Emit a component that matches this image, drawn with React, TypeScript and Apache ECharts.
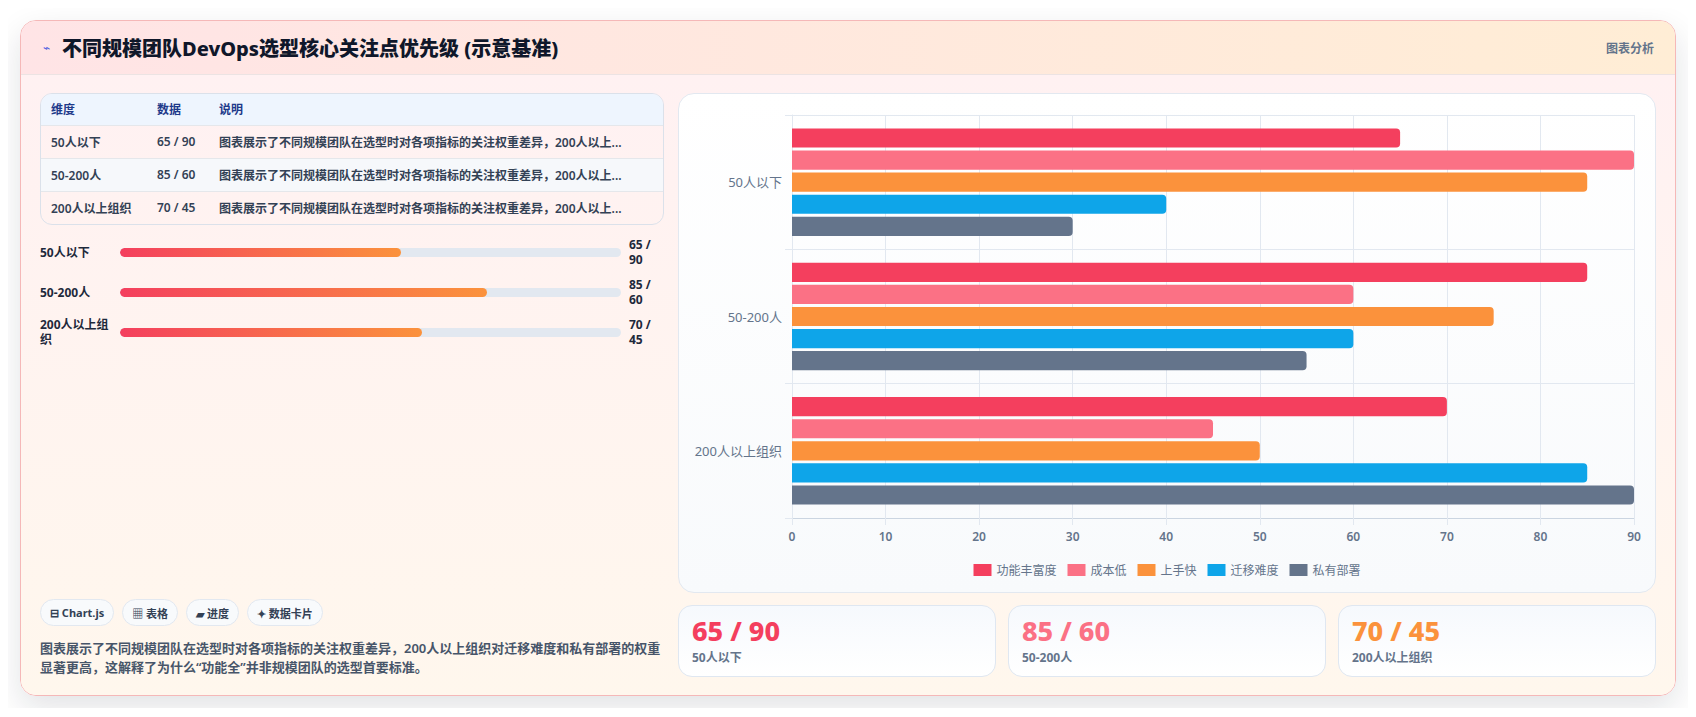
import { useEffect, useRef } from "react";
import * as echarts from "echarts";

// Team-size categories and per-dimension weights
const CATEGORIES = ["50人以下", "50-200人", "200人以上组织"];
const SERIES_NAMES = ["功能丰富度", "成本低", "上手快", "迁移难度", "私有部署"];
const FEATURE_RICHNESS = [65, 85, 70];
const LOW_COST = [90, 60, 45];
const EASY_ONBOARDING = [85, 75, 50];
const MIGRATION_DIFFICULTY = [40, 60, 85];
const PRIVATE_DEPLOYMENT = [30, 55, 90];
const SERIES_VALUES = [FEATURE_RICHNESS, LOW_COST, EASY_ONBOARDING, MIGRATION_DIFFICULTY, PRIVATE_DEPLOYMENT];
const X_MIN = 0;
const X_MAX = 90;
const X_INTERVAL = 10;
const PROGRESS_MAX = 116;

const SERIES_COLORS = ["#f43f5e", "#fb7185", "#fb923c", "#0ea5e9", "#64748b"];
const STAT_COLORS = ["#f43f5e", "#fb7185", "#fb923c"];

const TITLE = "不同规模团队DevOps选型核心关注点优先级 (示意基准)";
const TABLE_HEAD = ["维度", "数据", "说明"];
const NOTE_SHORT = "图表展示了不同规模团队在选型时对各项指标的关注权重差异，200人以上...";
const NOTE =
  "图表展示了不同规模团队在选型时对各项指标的关注权重差异，200人以上组织对迁移难度和私有部署的权重显著更高，这解释了为什么“功能全”并非规模团队的选型首要标准。";
const TAGS = ["⊟ Chart.js", "▦ 表格", "▰ 进度", "✦ 数据卡片"];

const FONT = '"Noto Sans", "Noto Sans CJK SC", sans-serif';

const pair = (i: number) => `${FEATURE_RICHNESS[i]} / ${LOW_COST[i]}`;

function BarChart() {
  const ref = useRef<HTMLDivElement>(null);

  useEffect(() => {
    if (!ref.current) return;
    const chart = echarts.init(ref.current, null, { renderer: "svg" });
    const grid = "#e2e8f0";
    chart.setOption({
      animation: false,
      textStyle: { fontFamily: FONT },
      grid: { left: 113, right: 21, top: 21, bottom: 74 },
      legend: {
        data: SERIES_NAMES,
        top: 465,
        left: "center",
        itemWidth: 18,
        itemHeight: 12,
        itemGap: 11,
        icon: "rect",
        textStyle: { fontSize: 12, color: "#64748b", fontFamily: FONT },
      },
      xAxis: {
        type: "value",
        min: X_MIN,
        max: X_MAX,
        interval: X_INTERVAL,
        axisLine: { show: true, lineStyle: { color: "#cbd5e1" } },
        axisTick: { show: true, length: 7, lineStyle: { color: grid } },
        axisLabel: { color: "#64748b", fontSize: 12, margin: 12, fontWeight: 600 },
        splitLine: { show: true, lineStyle: { color: grid } },
      },
      yAxis: {
        type: "category",
        data: CATEGORIES,
        inverse: true,
        axisLine: { show: true, lineStyle: { color: grid } },
        axisTick: { show: true, length: 7, lineStyle: { color: grid } },
        axisLabel: { color: "#64748b", fontSize: 13, margin: 10 },
        splitLine: { show: true, lineStyle: { color: grid } },
      },
      series: SERIES_NAMES.map((name, i) => ({
        name,
        type: "bar",
        data: SERIES_VALUES[i],
        barCategoryGap: "20%",
        barGap: "15%",
        itemStyle: { color: SERIES_COLORS[i], borderRadius: [0, 4, 4, 0] },
      })),
    });
    return () => chart.dispose();
  }, []);

  return <div ref={ref} style={{ width: 976, height: 498 }} />;
}

export default function App() {
  return (
    <div style={{ padding: 12, fontFamily: FONT }}>
      <div
        style={{
          width: 1656,
          height: 676,
          boxSizing: "border-box",
          border: "1px solid #f5b8b8",
          borderRadius: 16,
          overflow: "hidden",
          boxShadow: "0 12px 32px rgba(15, 23, 42, 0.12)",
        }}
      >
        {/* header */}
        <div
          style={{
            height: 53,
            borderBottom: "1px solid #ece3e3",
            display: "flex",
            alignItems: "center",
            justifyContent: "space-between",
            padding: "0 21px 0 22px",
            background: "linear-gradient(90deg, #ffe4e6 0%, #ffedd5 100%)",
          }}
        >
          <div style={{ display: "flex", alignItems: "center" }}>
            <span style={{ display: "inline-block", width: 19, fontSize: 12, color: "#4f5fe0" }}>⌁</span>
            <span style={{ fontSize: 20, fontWeight: 800, color: "#0f172a" }}>{TITLE}</span>
          </div>
          <span style={{ fontSize: 12, fontWeight: 700, color: "#64748b" }}>图表分析</span>
        </div>

        {/* body */}
        <div
          style={{
            height: 620,
            boxSizing: "border-box",
            padding: "18px 19px",
            display: "flex",
            gap: 14,
            background: "linear-gradient(180deg, #fff1f2 0%, #fff7ed 100%)",
          }}
        >
          {/* left column */}
          <div style={{ width: 624, display: "flex", flexDirection: "column" }}>
            <div style={{ border: "1px solid #dbe1ea", borderRadius: 12, overflow: "hidden" }}>
              <table style={{ width: "100%", borderCollapse: "collapse", fontSize: 12 }}>
                <thead>
                  <tr style={{ background: "#eef5fe", height: 31 }}>
                    {TABLE_HEAD.map((h, i) => (
                      <th
                        key={h}
                        style={{
                          textAlign: "left",
                          padding: "0 10px",
                          fontWeight: 700,
                          color: "#1e3a8a",
                          width: i === 0 ? 86 : i === 1 ? 42 : undefined,
                        }}
                      >
                        {h}
                      </th>
                    ))}
                  </tr>
                </thead>
                <tbody>
                  {CATEGORIES.map((c, i) => (
                    <tr
                      key={c}
                      style={{
                        height: 33,
                        borderTop: "1px solid #e5e7eb",
                        background: i % 2 === 1 ? "#f6f8fb" : "transparent",
                        color: "#334155",
                        fontWeight: 600,
                      }}
                    >
                      <td style={{ padding: "0 10px", whiteSpace: "nowrap" }}>{c}</td>
                      <td style={{ padding: "0 10px", whiteSpace: "nowrap" }}>{pair(i)}</td>
                      <td style={{ padding: "0 10px", whiteSpace: "nowrap" }}>{NOTE_SHORT}</td>
                    </tr>
                  ))}
                </tbody>
              </table>
            </div>

            {/* progress rows */}
            <div style={{ marginTop: 12, display: "flex", flexDirection: "column", gap: 10 }}>
              {CATEGORIES.map((c, i) => (
                <div
                  key={c}
                  style={{
                    display: "grid",
                    gridTemplateColumns: "72px 1fr 35px",
                    columnGap: 8,
                    alignItems: "center",
                    minHeight: 30,
                    fontSize: 12,
                    fontWeight: 700,
                    color: "#1e293b",
                    lineHeight: "15px",
                  }}
                >
                  <div>{c}</div>
                  <div style={{ height: 9, borderRadius: 999, background: "#e2e8f0", overflow: "hidden" }}>
                    <div
                      style={{
                        width: `${(FEATURE_RICHNESS[i] / PROGRESS_MAX) * 100}%`,
                        height: "100%",
                        borderRadius: 999,
                        background: "linear-gradient(90deg, #f43f5e, #fb923c)",
                      }}
                    />
                  </div>
                  <div>{pair(i)}</div>
                </div>
              ))}
            </div>

            {/* tags + note */}
            <div style={{ marginTop: "auto", display: "flex", gap: 8 }}>
              {TAGS.map((t) => (
                <span
                  key={t}
                  style={{
                    height: 27,
                    boxSizing: "border-box",
                    padding: "0 9px",
                    display: "inline-flex",
                    alignItems: "center",
                    borderRadius: 999,
                    border: "1px solid #e2e8f0",
                    background: "#f8fafc",
                    fontSize: 11,
                    fontWeight: 700,
                    color: "#334155",
                  }}
                >
                  {t}
                </span>
              ))}
            </div>
            <p
              style={{
                margin: "13px 0 0",
                fontSize: 13,
                lineHeight: "18.8px",
                fontWeight: 600,
                color: "#475569",
              }}
            >
              {NOTE}
            </p>
          </div>

          {/* right column */}
          <div style={{ flex: 1, display: "flex", flexDirection: "column", gap: 12 }}>
            <div
              style={{
                height: 500,
                boxSizing: "border-box",
                border: "1px solid #e2e8f0",
                borderRadius: 16,
                overflow: "hidden",
                background: "linear-gradient(180deg, #ffffff 0%, #f8fafc 100%)",
              }}
            >
              <BarChart />
            </div>
            <div style={{ display: "flex", gap: 12 }}>
              {CATEGORIES.map((c, i) => (
                <div
                  key={c}
                  style={{
                    flex: 1,
                    height: 72,
                    boxSizing: "border-box",
                    padding: "10px 13px",
                    border: "1px solid #dfe7f1",
                    borderRadius: 14,
                    background: "linear-gradient(180deg, #f6f9fd 0%, #ffffff 100%)",
                  }}
                >
                  <div style={{ fontSize: 27, lineHeight: "30px", fontWeight: 800, color: STAT_COLORS[i] }}>
                    {pair(i)}
                  </div>
                  <div style={{ marginTop: 4, fontSize: 12, lineHeight: "16px", fontWeight: 700, color: "#64748b" }}>
                    {c}
                  </div>
                </div>
              ))}
            </div>
          </div>
        </div>
      </div>
    </div>
  );
}
